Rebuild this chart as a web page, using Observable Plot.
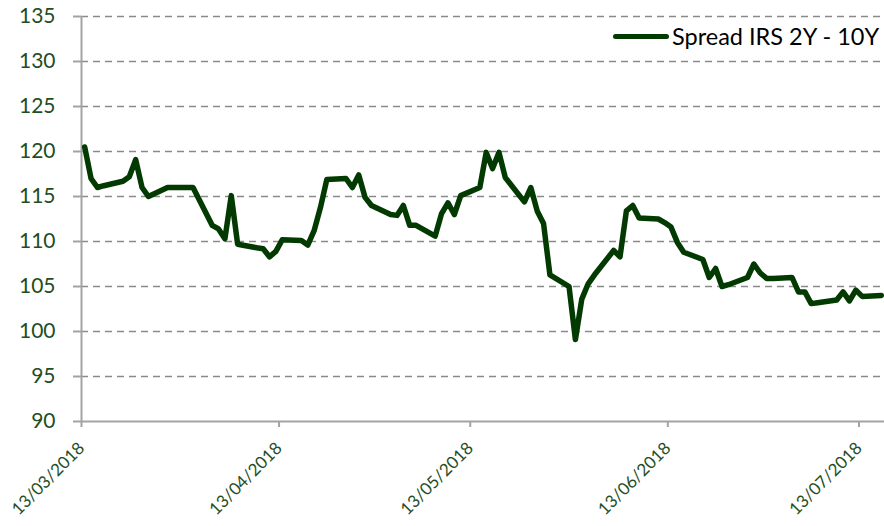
<!DOCTYPE html>
<html><head><meta charset="utf-8">
<script src="https://cdn.jsdelivr.net/npm/d3@7"></script>
<script src="https://cdn.jsdelivr.net/npm/@observablehq/plot@0.6"></script>
<style>
body{margin:0;background:#fff;}
#wrap{position:relative;width:884px;height:526px;font-family:Lato,sans-serif;}
#legend{position:absolute;left:613px;top:23px;display:flex;align-items:center;font-size:23.5px;color:#000;line-height:26px;}
#legend .sw{display:inline-block;width:56px;height:5px;background:#023a02;border-radius:3px;margin-right:3px;}
</style></head>
<body><div id="wrap"><div id="legend"><span class="sw"></span><span>Spread IRS 2Y - 10Y</span></div></div>
<script>
const dates = ["2018-03-13","2018-03-14","2018-03-15","2018-03-16","2018-03-19","2018-03-20","2018-03-21","2018-03-22","2018-03-23",
"2018-03-26","2018-03-27","2018-03-28","2018-03-29","2018-03-30","2018-04-02","2018-04-03","2018-04-04","2018-04-05","2018-04-06",
"2018-04-09","2018-04-10","2018-04-11","2018-04-12","2018-04-13","2018-04-16","2018-04-17","2018-04-18","2018-04-19","2018-04-20",
"2018-04-23","2018-04-24","2018-04-25","2018-04-26","2018-04-27","2018-04-30","2018-05-01","2018-05-02","2018-05-03","2018-05-04",
"2018-05-07","2018-05-08","2018-05-09","2018-05-10","2018-05-11","2018-05-14","2018-05-15","2018-05-16","2018-05-17","2018-05-18",
"2018-05-21","2018-05-22","2018-05-23","2018-05-24","2018-05-25","2018-05-28","2018-05-29","2018-05-30","2018-05-31","2018-06-01",
"2018-06-04","2018-06-05","2018-06-06","2018-06-07","2018-06-08","2018-06-11","2018-06-12","2018-06-13","2018-06-14","2018-06-15",
"2018-06-18","2018-06-19","2018-06-20","2018-06-21","2018-06-22","2018-06-25","2018-06-26","2018-06-27","2018-06-28","2018-06-29",
"2018-07-02","2018-07-03","2018-07-04","2018-07-05","2018-07-06","2018-07-09","2018-07-10","2018-07-11","2018-07-12","2018-07-13",
"2018-07-16"];
const spread = [120.5,117.0,116.0,116.2,116.7,117.2,119.1,116.0,115.0,
116.0,116.0,116.0,116.0,116.0,111.8,111.4,110.3,115.1,109.7,
109.3,109.2,108.3,108.9,110.2,110.1,109.6,111.2,113.8,116.9,
117.0,116.0,117.4,114.9,114.0,113.0,112.9,114.0,111.8,111.8,
110.6,113.1,114.3,113.0,115.1,116.0,119.9,118.1,119.9,117.1,
114.4,116.0,113.4,112.0,106.3,105.0,99.1,103.6,105.3,106.3,
109.0,108.3,113.4,114.0,112.6,112.5,112.1,111.6,109.9,108.8,
108.0,106.0,107.0,105.0,105.2,106.0,107.5,106.5,105.9,105.9,
106.0,104.4,104.4,103.1,103.2,103.5,104.4,103.4,104.6,103.9,
104.0];
const yTicks = [90,95,100,105,110,115,120,125,130,135];
const xTickDates = ["2018-03-13","2018-04-13","2018-05-13","2018-06-13","2018-07-13"];
const xDomain = ["2018-03-13","2018-07-17"];
const seriesName = "Spread IRS 2Y - 10Y";

const parse = d3.utcParse("%Y-%m-%d");
const data = dates.map((d, i) => ({date: parse(d), value: spread[i]}));
const halfDay = 12 * 3600 * 1000; // Excel date axis: points sit between tick marks

const plot = Plot.plot({
  width: 884, height: 526,
  marginLeft: 81, marginRight: 0, marginTop: 16, marginBottom: 105,
  style: {fontFamily: "Lato, sans-serif", background: "#fff"},
  x: {type: "utc", domain: xDomain.map(parse), label: null},
  y: {domain: [90, 135], label: null},
  marks: [
    Plot.ruleY(yTicks.filter(v => v > 90), {stroke: "#8a8a8a", strokeWidth: 1.5, strokeDasharray: "7,5"}),
    Plot.ruleX([parse(xDomain[0])], {stroke: "#a3a3a3", strokeWidth: 2}),
    Plot.ruleY([90], {stroke: "#a3a3a3", strokeWidth: 2}),
    Plot.axisY({ticks: yTicks, tickSize: 8, tickPadding: 18, stroke: "#a3a3a3", strokeWidth: 2,
      fill: "#1f4e1f", fontSize: 21, label: null, tickFormat: d => String(d)}),
    Plot.axisX({ticks: xTickDates.map(parse), tickSize: 6, tickPadding: 18, tickRotate: -45,
      stroke: "#a3a3a3", strokeWidth: 2, fill: "#1f4e1f", fontSize: 17, label: null,
      tickFormat: d3.utcFormat("%d/%m/%Y")}),
    Plot.lineY(data, {x: d => new Date(+d.date + halfDay), y: "value", stroke: "#023a02",
      strokeWidth: 5.5, strokeLinejoin: "round", strokeLinecap: "round"})
  ]
});
document.getElementById("wrap").prepend(plot);
document.querySelector("#legend span:last-child").textContent = seriesName;
</script>
</body></html>
